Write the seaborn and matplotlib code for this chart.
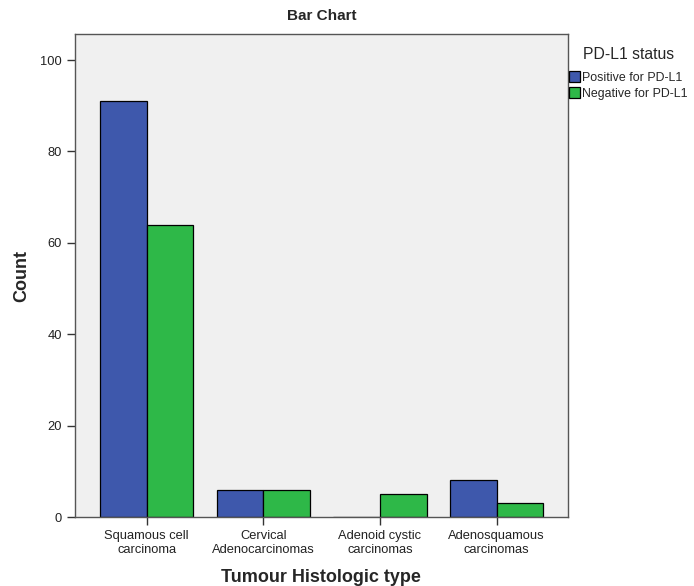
import matplotlib
matplotlib.use("Agg")
import matplotlib.pyplot as plt
import seaborn as sns
import pandas as pd

categories = ["Squamous cell\ncarcinoma", "Cervical\nAdenocarcinomas",
              "Adenoid cystic\ncarcinomas", "Adenosquamous\ncarcinomas"]
status = ["Positive for PD-L1", "Negative for PD-L1"]
positive = [91, 6, 0, 8]
negative = [64, 6, 5, 3]

df = pd.DataFrame({
    "type": categories * 2,
    "status": [status[0]] * 4 + [status[1]] * 4,
    "count": positive + negative,
})

sns.set_style("white")
plt.rcParams["font.family"] = ["Liberation Sans", "DejaVu Sans"]

fig = plt.figure(figsize=(6.94, 5.86), dpi=100)
ax = fig.add_axes([0.108, 0.1177, 0.71, 0.8243])
ax.set_facecolor("#f0f0f0")

sns.barplot(data=df, x="type", y="count", hue="status", hue_order=status,
            palette=["#3e58ac", "#2eb848"], saturation=1, width=0.8,
            edgecolor="black", linewidth=0.9, ax=ax, legend=True)

ax.set_xlim(-0.615, 3.61)
ax.set_ylim(0, 105.7)
ax.set_yticks([0, 20, 40, 60, 80, 100])
ax.tick_params(axis="both", direction="out", length=6, width=1, colors="#333333",
               labelsize=9.3, labelcolor="#222222", left=True, bottom=True)
for s in ax.spines.values():
    s.set_color("#555555")
    s.set_linewidth(1)

ax.set_title("Bar Chart", fontsize=11, fontweight="bold", pad=10)
ax.set_ylabel("Count", fontsize=13, fontweight="bold", labelpad=7)
ax.set_xlabel("Tumour Histologic type", fontsize=13, fontweight="bold", labelpad=9)

leg = ax.legend(title="PD-L1 status", loc="upper left",
                bbox_to_anchor=(568 / 694, 1 - 52 / 586),
                bbox_transform=fig.transFigure,
                frameon=False, fontsize=8.9, title_fontsize=11.3,
                handlelength=0.85, handleheight=0.95, handletextpad=0.15,
                labelspacing=0.25, borderaxespad=0, borderpad=0.1)
leg.get_title().set_position((0, 6))

fig.savefig("out.png", dpi=100)
